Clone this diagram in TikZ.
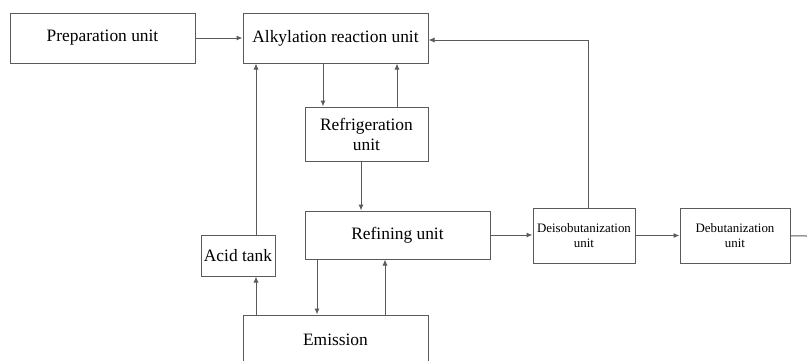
\documentclass[tikz,border=0pt]{standalone}
\usepackage{fontspec}
\setmainfont{Liberation Serif}
\usetikzlibrary{arrows.meta,calc}
\definecolor{linegray}{HTML}{5A5A5A}
\begin{document}
\begin{tikzpicture}
  [x=1pt,y=-1pt,
   every node/.style={draw=linegray,line width=1pt,align=center,inner sep=2pt,font=\fontsize{17.4}{20}\selectfont},
   small/.style={font=\fontsize{12.9}{15.5}\selectfont},
   arr/.style={draw=linegray,line width=1pt,-{Latex[length=6pt,width=5pt]}}]
  \useasboundingbox (0,0) rectangle (807,360);
  \clip (0,0) rectangle (807,360);
  \node[minimum width=185pt,minimum height=50pt] (prep) at (102.5,38) {Preparation unit};
  \node[minimum width=185pt,minimum height=50pt] (alk) at (335.5,38) {Alkylation reaction unit};
  \node[minimum width=123pt,minimum height=54pt] (refrig) at (366.5,134) {Refrigeration\\unit};
  \node[minimum width=185pt,minimum height=48pt] (refine) at (397.5,235) {Refining unit};
  \node[minimum width=74pt,minimum height=41pt] (acid) at (238,255.5) {Acid tank};
  \node[minimum width=185pt,minimum height=50pt] (emis) at (335.5,340) {Emission};
  \node[small,minimum width=102pt,minimum height=55pt] (deiso) at (584,235.5) {Deisobutanization\\unit};
  \node[small,minimum width=110pt,minimum height=55pt] (debut) at (735,235.5) {Debutanization\\unit};
  \coordinate (out) at (807,236);

  \draw[arr] (prep) -- (alk);
  \draw[arr] ([xshift=-12.5pt]alk.south) -- ([xshift=-12.5pt]alk.south |- refrig.north);
  \draw[arr] ([xshift=30.5pt]refrig.north) -- ([xshift=30.5pt]refrig.north |- alk.south);
  \draw[arr] ([xshift=-5.5pt]refrig.south) -- ([xshift=-5.5pt]refrig.south |- refine.north);
  \draw[arr] ([xshift=18pt]acid.north) -- ([xshift=18pt]acid.north |- alk.south);
  \draw[arr] ([xshift=18pt]acid.south |- emis.north) -- ([xshift=18pt]acid.south);
  \draw[arr] ([xshift=-80.5pt]refine.south) -- ([xshift=-80.5pt]refine.south |- emis.north);
  \draw[arr] ([xshift=49.5pt]emis.north) -- ([xshift=49.5pt]emis.north |- refine.south);
  \draw[arr] (refine.east) -- (refine.east -| deiso.west);
  \draw[arr] (deiso) -- (debut);
  \draw[linegray,line width=1pt] (debut) -- (out);
  \draw[arr] ([xshift=4pt]deiso.north) |- ([yshift=-2pt]alk.east);
\end{tikzpicture}
\end{document}
